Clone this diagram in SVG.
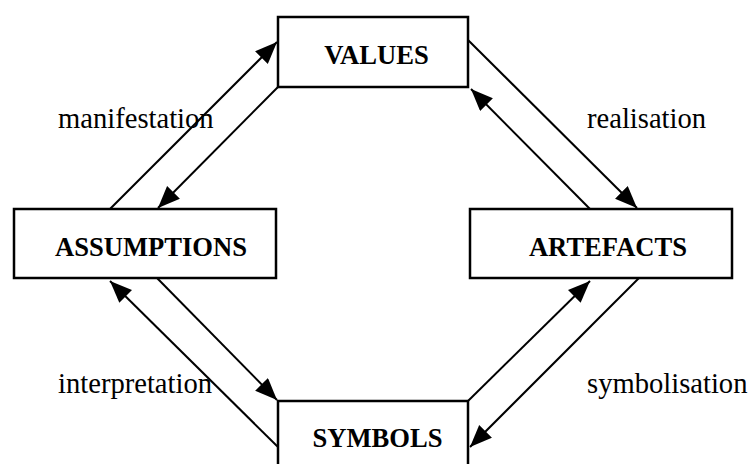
<svg xmlns="http://www.w3.org/2000/svg" width="752" height="464" viewBox="0 0 752 464">
<style>
.box{fill:#fff;stroke:#000;stroke-width:2.5}
.lbl{font-family:"Liberation Serif","Times New Roman",serif;font-weight:bold;font-size:26.6px;text-anchor:middle;fill:#000}
.txt{font-family:"Liberation Serif","Times New Roman",serif;font-size:28.6px;fill:#000}
.ln{stroke:#000;stroke-width:2;fill:none;marker-end:url(#ah)}
</style>
<defs>
<marker id="ah" markerUnits="userSpaceOnUse" markerWidth="24" markerHeight="20" refX="22" refY="9" orient="auto">
<path d="M0,0 L22,9 L0,18 z" fill="#000"/>
</marker>
</defs>
<rect width="752" height="464" fill="#fff"/>
<g id="connectors">
<line class="ln" x1="110" y1="209" x2="277" y2="42"/>
<line class="ln" x1="278" y1="87" x2="158" y2="208"/>
<line class="ln" x1="468" y1="40" x2="637" y2="208"/>
<line class="ln" x1="590" y1="209" x2="471" y2="89"/>
<line class="ln" x1="278" y1="447" x2="110" y2="281"/>
<line class="ln" x1="157" y1="278" x2="277" y2="400"/>
<line class="ln" x1="468" y1="401" x2="590" y2="281"/>
<line class="ln" x1="639" y1="278" x2="470" y2="447"/>
</g>
<g id="values">
<rect class="box" x="278" y="17" width="190" height="70"/>
<text class="lbl" x="376.5" y="64">VALUES</text>
</g>
<g id="assumptions">
<rect class="box" x="14" y="209" width="262" height="69"/>
<text class="lbl" x="151" y="256">ASSUMPTIONS</text>
</g>
<g id="artefacts">
<rect class="box" x="470" y="209" width="262" height="69"/>
<text class="lbl" x="608" y="256">ARTEFACTS</text>
</g>
<g id="symbols">
<rect class="box" x="278" y="401" width="190" height="72"/>
<text class="lbl" x="377.5" y="447">SYMBOLS</text>
</g>
<g id="labels">
<text class="txt" x="58" y="128">manifestation</text>
<text class="txt" x="587" y="128">realisation</text>
<text class="txt" x="58" y="393">interpretation</text>
<text class="txt" x="587" y="393">symbolisation</text>
</g>
</svg>
